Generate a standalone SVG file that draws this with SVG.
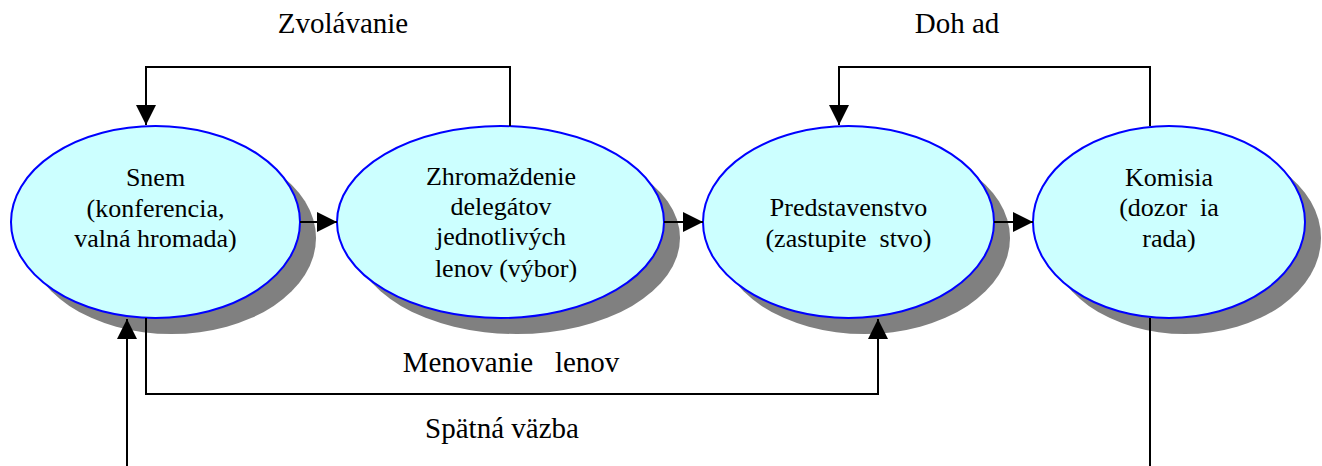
<svg xmlns="http://www.w3.org/2000/svg" width="1322" height="466" viewBox="0 0 1322 466">
<style>
.shadow{fill:#808080;stroke:none}
.node{fill:#CCFFFF;stroke:#0000FF;stroke-width:2}
text{font-family:'Liberation Serif','DejaVu Serif',serif;fill:#000;text-anchor:middle}
.t{font-size:26px}
.lbl{font-size:29px}
.c{fill:none;stroke:#000;stroke-width:2}
</style>
<defs>
<marker id="arr" markerUnits="userSpaceOnUse" markerWidth="20" markerHeight="20" refX="20" refY="10" orient="auto" viewBox="0 0 20 20">
<path d="M0,0 L20,10 L0,20 z" fill="#000"/>
</marker>
</defs>
<rect width="1322" height="466" fill="#fff"/>
<g id="snem" font-family="Liberation Serif, serif">
<ellipse class="shadow" cx="171.5" cy="238" rx="144.5" ry="96"/>
<ellipse class="node" cx="155.5" cy="222" rx="144.5" ry="96"/>
<text class="t" x="155.5" y="186">Snem</text>
<text class="t" x="155.5" y="217">(konferencia,</text>
<text class="t" x="155.5" y="247">valná hromada)</text>
</g>
<g id="zhromazdenie">
<ellipse class="shadow" cx="516.5" cy="238" rx="163.5" ry="96"/>
<ellipse class="node" cx="500.5" cy="222" rx="163.5" ry="96"/>
<text class="t" x="501" y="185">Zhromaždenie</text>
<text class="t" x="501" y="215">delegátov</text>
<text class="t" x="501" y="245">jednotlivých</text>
<text class="t" x="506" y="277">lenov (výbor)</text>
</g>
<g id="predstavenstvo">
<ellipse class="shadow" cx="864.5" cy="238" rx="145.5" ry="96"/>
<ellipse class="node" cx="848.5" cy="222" rx="145.5" ry="96"/>
<text class="t" x="848.5" y="216">Predstavenstvo</text>
<text class="t" x="848.5" y="247" xml:space="preserve">(zastupite  stvo)</text>
</g>
<g id="komisia">
<ellipse class="shadow" cx="1185" cy="238" rx="136" ry="96"/>
<ellipse class="node" cx="1169" cy="222" rx="136" ry="96"/>
<text class="t" x="1169" y="186">Komisia</text>
<text class="t" x="1169" y="216" xml:space="preserve">(dozor  ia</text>
<text class="t" x="1169" y="247">rada)</text>
</g>
<g id="connectors">
<path class="c" d="M510,126 V67 H146 V125" marker-end="url(#arr)"/>
<path class="c" d="M1150,126 V67 H839 V125" marker-end="url(#arr)"/>
<path class="c" d="M146,318 V394 H878 V319" marker-end="url(#arr)"/>
<path class="c" d="M127,466 V319" marker-end="url(#arr)"/>
<path class="c" d="M1150,318 V466"/>
<path class="c" d="M300,222 H337" marker-end="url(#arr)"/>
<path class="c" d="M664,222 H703" marker-end="url(#arr)"/>
<path class="c" d="M994,222 H1033" marker-end="url(#arr)"/>
</g>
<g id="labels">
<text class="lbl" x="343" y="33">Zvolávanie</text>
<text class="lbl" x="957" y="33" xml:space="preserve">Doh ad</text>
<text class="lbl" x="511" y="372" xml:space="preserve">Menovanie   lenov</text>
<text class="lbl" x="502" y="438">Spätná väzba</text>
</g>
</svg>
